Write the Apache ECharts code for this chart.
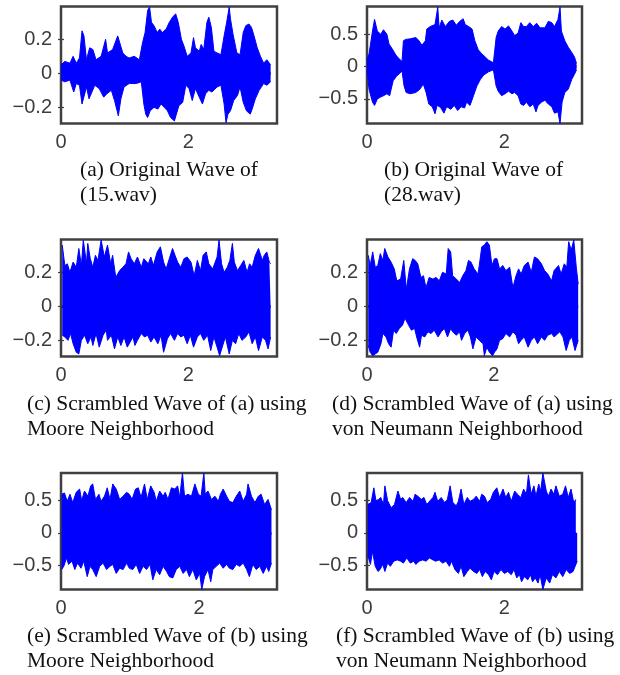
<!DOCTYPE html>
<html>
<head>
<meta charset="utf-8">
<title>Original and scrambled waves</title>
<script src="https://cdn.jsdelivr.net/npm/echarts@6/dist/echarts.min.js"></script>
<style>
  html, body { margin: 0; padding: 0; background: #fff; }
  #chart { width: 620px; height: 675px; }
</style>
</head>
<body>
<div id="chart"></div>
<script>
// envelopes of each wave, [time, amplitude]
var waveA_upper = [[0,0.05],[0.06,0.07],[0.14,0.06],[0.19,0.10],[0.24,0.06],[0.29,0.09],[0.33,0.25],[0.36,0.22],[0.40,0.08],[0.45,0.15],[0.50,0.14],[0.55,0.08],[0.63,0.10],[0.70,0.20],[0.73,0.12],[0.81,0.14],[0.89,0.22],[0.92,0.23],[0.97,0.12],[1.02,0.10],[1.07,0.09],[1.15,0.10],[1.23,0.08],[1.28,0.18],[1.32,0.24],[1.36,0.37],[1.39,0.39],[1.42,0.30],[1.46,0.28],[1.51,0.24],[1.55,0.26],[1.59,0.24],[1.65,0.26],[1.70,0.30],[1.75,0.33],[1.80,0.35],[1.84,0.30],[1.89,0.20],[1.93,0.16],[1.98,0.10],[2.04,0.12],[2.08,0.21],[2.11,0.15],[2.17,0.13],[2.20,0.17],[2.24,0.14],[2.29,0.30],[2.32,0.33],[2.36,0.27],[2.40,0.13],[2.45,0.12],[2.51,0.11],[2.56,0.22],[2.60,0.30],[2.64,0.39],[2.66,0.32],[2.70,0.23],[2.76,0.12],[2.81,0.11],[2.86,0.24],[2.90,0.28],[2.95,0.29],[2.99,0.27],[3.03,0.22],[3.08,0.15],[3.13,0.10],[3.18,0.06],[3.23,0.08],[3.29,0.05]];
var waveA_lower = [[0,-0.04],[0.06,-0.05],[0.14,-0.04],[0.20,-0.11],[0.24,-0.06],[0.29,-0.07],[0.33,-0.18],[0.36,-0.17],[0.40,-0.08],[0.44,-0.15],[0.47,-0.14],[0.53,-0.07],[0.60,-0.09],[0.67,-0.14],[0.72,-0.12],[0.79,-0.10],[0.84,-0.16],[0.88,-0.22],[0.90,-0.25],[0.94,-0.15],[0.99,-0.08],[1.07,-0.06],[1.18,-0.06],[1.26,-0.05],[1.30,-0.18],[1.33,-0.24],[1.36,-0.26],[1.40,-0.22],[1.46,-0.20],[1.52,-0.21],[1.57,-0.18],[1.62,-0.20],[1.67,-0.22],[1.72,-0.26],[1.78,-0.28],[1.81,-0.27],[1.85,-0.19],[1.91,-0.17],[1.96,-0.07],[2.01,-0.09],[2.06,-0.16],[2.11,-0.09],[2.17,-0.14],[2.22,-0.18],[2.27,-0.12],[2.32,-0.10],[2.37,-0.11],[2.45,-0.08],[2.51,-0.07],[2.56,-0.18],[2.59,-0.29],[2.62,-0.24],[2.66,-0.22],[2.71,-0.16],[2.77,-0.13],[2.81,-0.08],[2.86,-0.17],[2.91,-0.22],[2.97,-0.24],[3.00,-0.21],[3.05,-0.15],[3.11,-0.10],[3.18,-0.06],[3.23,-0.07],[3.29,-0.05]];

var waveB_upper = [[0,0.11],[0.03,0.20],[0.08,0.55],[0.11,0.73],[0.15,0.55],[0.20,0.50],[0.24,0.57],[0.29,0.50],[0.32,0.35],[0.37,0.27],[0.42,0.18],[0.46,0.13],[0.51,0.08],[0.53,0.40],[0.56,0.42],[0.63,0.43],[0.71,0.45],[0.75,0.41],[0.80,0.33],[0.85,0.40],[0.87,0.58],[0.92,0.62],[0.99,0.65],[1.03,0.92],[1.05,0.60],[1.09,0.72],[1.14,0.62],[1.20,0.70],[1.25,0.72],[1.30,0.64],[1.35,0.70],[1.40,0.74],[1.43,0.65],[1.48,0.62],[1.53,0.58],[1.57,0.40],[1.62,0.26],[1.67,0.20],[1.72,0.15],[1.77,0.10],[1.84,0.06],[1.88,0.45],[1.91,0.55],[1.96,0.62],[2.01,0.58],[2.06,0.63],[2.11,0.55],[2.15,0.48],[2.20,0.52],[2.24,0.68],[2.28,0.62],[2.32,0.62],[2.37,0.68],[2.42,0.62],[2.47,0.67],[2.52,0.60],[2.59,0.60],[2.64,0.70],[2.69,0.68],[2.73,0.62],[2.78,0.73],[2.81,0.92],[2.83,0.55],[2.88,0.40],[2.93,0.30],[2.98,0.22],[3.02,0.15],[3.05,0.05]];
var waveB_lower = [[0,-0.05],[0.03,-0.35],[0.08,-0.55],[0.11,-0.60],[0.15,-0.50],[0.20,-0.47],[0.24,-0.45],[0.29,-0.42],[0.33,-0.45],[0.38,-0.22],[0.43,-0.15],[0.48,-0.10],[0.51,-0.07],[0.54,-0.30],[0.57,-0.40],[0.63,-0.42],[0.71,-0.40],[0.77,-0.35],[0.82,-0.27],[0.86,-0.40],[0.90,-0.58],[0.95,-0.62],[0.99,-0.73],[1.02,-0.60],[1.07,-0.63],[1.12,-0.72],[1.16,-0.62],[1.22,-0.66],[1.27,-0.60],[1.32,-0.68],[1.37,-0.62],[1.42,-0.64],[1.45,-0.55],[1.50,-0.60],[1.55,-0.45],[1.60,-0.30],[1.65,-0.20],[1.70,-0.13],[1.77,-0.08],[1.84,-0.05],[1.88,-0.30],[1.91,-0.38],[1.96,-0.45],[2.01,-0.42],[2.06,-0.38],[2.11,-0.42],[2.15,-0.40],[2.20,-0.45],[2.24,-0.58],[2.28,-0.60],[2.32,-0.55],[2.37,-0.62],[2.42,-0.58],[2.46,-0.70],[2.49,-0.60],[2.54,-0.55],[2.59,-0.52],[2.64,-0.58],[2.69,-0.62],[2.73,-0.72],[2.78,-0.70],[2.81,-0.88],[2.84,-0.55],[2.88,-0.40],[2.93,-0.35],[2.98,-0.20],[3.02,-0.12],[3.05,-0.05]];

var waveC_upper = [[0.02,0.36],[0.06,0.24],[0.10,0.25],[0.14,0.20],[0.19,0.26],[0.24,0.23],[0.28,0.34],[0.32,0.24],[0.35,0.39],[0.40,0.25],[0.42,0.37],[0.46,0.28],[0.50,0.23],[0.54,0.30],[0.58,0.27],[0.63,0.39],[0.68,0.29],[0.73,0.36],[0.78,0.25],[0.81,0.30],[0.86,0.17],[0.92,0.21],[0.97,0.23],[1.02,0.25],[1.06,0.32],[1.10,0.28],[1.15,0.25],[1.20,0.29],[1.26,0.23],[1.30,0.28],[1.33,0.27],[1.37,0.25],[1.41,0.29],[1.45,0.24],[1.51,0.32],[1.56,0.35],[1.61,0.26],[1.65,0.22],[1.70,0.28],[1.75,0.34],[1.79,0.30],[1.83,0.26],[1.88,0.23],[1.93,0.28],[1.98,0.29],[2.04,0.26],[2.09,0.18],[2.14,0.27],[2.19,0.21],[2.23,0.30],[2.28,0.32],[2.32,0.25],[2.38,0.22],[2.41,0.25],[2.45,0.29],[2.48,0.39],[2.52,0.25],[2.56,0.20],[2.61,0.23],[2.65,0.27],[2.69,0.37],[2.72,0.26],[2.77,0.21],[2.82,0.24],[2.87,0.27],[2.92,0.20],[2.96,0.25],[3.00,0.23],[3.05,0.30],[3.10,0.34],[3.16,0.27],[3.19,0.30],[3.23,0.32],[3.27,0.26],[3.29,0.25]];
var waveC_lower = [[0.02,-0.17],[0.06,-0.18],[0.11,-0.20],[0.15,-0.16],[0.19,-0.22],[0.24,-0.27],[0.28,-0.28],[0.32,-0.20],[0.37,-0.17],[0.42,-0.22],[0.47,-0.18],[0.50,-0.23],[0.55,-0.16],[0.60,-0.24],[0.66,-0.17],[0.71,-0.14],[0.73,-0.20],[0.79,-0.17],[0.84,-0.25],[0.89,-0.18],[0.94,-0.23],[0.99,-0.18],[1.04,-0.24],[1.07,-0.25],[1.13,-0.18],[1.16,-0.23],[1.20,-0.20],[1.26,-0.16],[1.31,-0.18],[1.36,-0.17],[1.41,-0.21],[1.46,-0.18],[1.52,-0.22],[1.57,-0.17],[1.61,-0.27],[1.67,-0.19],[1.72,-0.16],[1.78,-0.20],[1.83,-0.16],[1.88,-0.18],[1.93,-0.17],[1.98,-0.22],[2.03,-0.17],[2.08,-0.24],[2.14,-0.18],[2.19,-0.16],[2.24,-0.20],[2.30,-0.17],[2.35,-0.26],[2.40,-0.18],[2.45,-0.24],[2.49,-0.29],[2.53,-0.24],[2.58,-0.18],[2.64,-0.28],[2.69,-0.20],[2.74,-0.22],[2.79,-0.16],[2.84,-0.20],[2.90,-0.18],[2.95,-0.15],[3.00,-0.22],[3.05,-0.18],[3.10,-0.26],[3.16,-0.18],[3.21,-0.20],[3.25,-0.25],[3.29,-0.18]];

var waveD_upper = [[0.02,0.30],[0.05,0.24],[0.09,0.32],[0.13,0.23],[0.17,0.24],[0.21,0.31],[0.25,0.27],[0.28,0.34],[0.33,0.29],[0.38,0.26],[0.43,0.22],[0.47,0.15],[0.53,0.16],[0.58,0.27],[0.62,0.10],[0.67,0.22],[0.72,0.28],[0.76,0.27],[0.80,0.25],[0.85,0.17],[0.89,0.18],[0.93,0.11],[0.98,0.17],[1.04,0.16],[1.09,0.17],[1.14,0.15],[1.19,0.20],[1.25,0.19],[1.28,0.34],[1.32,0.32],[1.35,0.18],[1.41,0.16],[1.46,0.14],[1.51,0.18],[1.56,0.21],[1.60,0.27],[1.64,0.26],[1.69,0.22],[1.75,0.19],[1.77,0.24],[1.81,0.35],[1.85,0.36],[1.89,0.38],[1.93,0.36],[1.97,0.24],[2.01,0.28],[2.05,0.28],[2.09,0.22],[2.14,0.24],[2.19,0.21],[2.25,0.23],[2.30,0.11],[2.35,0.18],[2.39,0.22],[2.43,0.19],[2.48,0.24],[2.54,0.26],[2.59,0.20],[2.64,0.29],[2.69,0.28],[2.75,0.25],[2.80,0.21],[2.85,0.19],[2.91,0.15],[2.95,0.21],[2.98,0.22],[3.02,0.24],[3.06,0.19],[3.11,0.25],[3.15,0.23],[3.18,0.38],[3.22,0.33],[3.26,0.39],[3.30,0.23],[3.33,0.13]];
var waveD_lower = [[0.02,-0.23],[0.05,-0.27],[0.09,-0.29],[0.13,-0.28],[0.17,-0.27],[0.22,-0.22],[0.25,-0.16],[0.30,-0.18],[0.34,-0.22],[0.38,-0.24],[0.42,-0.14],[0.46,-0.16],[0.51,-0.13],[0.56,-0.11],[0.60,-0.07],[0.64,-0.10],[0.70,-0.14],[0.75,-0.13],[0.79,-0.19],[0.83,-0.24],[0.86,-0.17],[0.91,-0.18],[0.96,-0.15],[1.01,-0.16],[1.06,-0.14],[1.12,-0.18],[1.17,-0.15],[1.22,-0.13],[1.27,-0.18],[1.32,-0.13],[1.35,-0.15],[1.41,-0.17],[1.46,-0.15],[1.49,-0.20],[1.54,-0.16],[1.59,-0.14],[1.63,-0.18],[1.67,-0.25],[1.72,-0.18],[1.77,-0.20],[1.83,-0.22],[1.85,-0.29],[1.89,-0.24],[1.93,-0.27],[1.98,-0.29],[2.01,-0.27],[2.05,-0.25],[2.09,-0.20],[2.14,-0.19],[2.19,-0.16],[2.25,-0.18],[2.30,-0.15],[2.35,-0.17],[2.39,-0.22],[2.43,-0.20],[2.48,-0.18],[2.54,-0.24],[2.59,-0.20],[2.64,-0.18],[2.69,-0.22],[2.75,-0.18],[2.80,-0.20],[2.85,-0.17],[2.91,-0.16],[2.95,-0.18],[2.98,-0.19],[3.04,-0.15],[3.09,-0.18],[3.14,-0.26],[3.19,-0.20],[3.23,-0.18],[3.28,-0.26],[3.33,-0.20]];

var waveE_upper = [[0.01,0.60],[0.05,0.62],[0.09,0.49],[0.13,0.60],[0.17,0.47],[0.22,0.63],[0.27,0.68],[0.30,0.50],[0.34,0.65],[0.39,0.57],[0.43,0.73],[0.46,0.76],[0.50,0.52],[0.55,0.60],[0.58,0.49],[0.63,0.57],[0.67,0.70],[0.71,0.52],[0.75,0.76],[0.80,0.68],[0.85,0.52],[0.90,0.57],[0.95,0.63],[0.99,0.60],[1.03,0.52],[1.08,0.68],[1.12,0.70],[1.16,0.55],[1.21,0.76],[1.25,0.52],[1.30,0.73],[1.35,0.63],[1.38,0.49],[1.43,0.65],[1.48,0.57],[1.51,0.63],[1.55,0.52],[1.60,0.70],[1.65,0.68],[1.69,0.73],[1.72,0.55],[1.76,0.93],[1.79,0.57],[1.84,0.60],[1.89,0.57],[1.94,0.76],[1.99,0.60],[2.03,0.57],[2.07,0.93],[2.09,0.60],[2.13,0.65],[2.18,0.52],[2.23,0.57],[2.28,0.49],[2.31,0.60],[2.35,0.68],[2.40,0.57],[2.44,0.49],[2.49,0.47],[2.54,0.57],[2.59,0.65],[2.64,0.49],[2.69,0.60],[2.71,0.76],[2.76,0.57],[2.81,0.47],[2.86,0.57],[2.90,0.60],[2.95,0.44],[3.00,0.52],[3.05,0.36]];
var waveE_lower = [[0.01,-0.57],[0.04,-0.52],[0.08,-0.39],[0.11,-0.49],[0.16,-0.44],[0.20,-0.57],[0.24,-0.47],[0.29,-0.55],[0.33,-0.44],[0.38,-0.68],[0.42,-0.52],[0.46,-0.57],[0.51,-0.68],[0.56,-0.52],[0.61,-0.47],[0.66,-0.57],[0.71,-0.52],[0.75,-0.49],[0.80,-0.63],[0.85,-0.55],[0.90,-0.57],[0.95,-0.47],[0.99,-0.55],[1.04,-0.57],[1.09,-0.49],[1.14,-0.63],[1.19,-0.52],[1.24,-0.57],[1.29,-0.49],[1.33,-0.73],[1.38,-0.57],[1.43,-0.65],[1.48,-0.52],[1.53,-0.60],[1.57,-0.68],[1.62,-0.70],[1.67,-0.57],[1.72,-0.52],[1.77,-0.63],[1.82,-0.57],[1.86,-0.68],[1.91,-0.57],[1.96,-0.73],[2.01,-0.63],[2.04,-0.88],[2.08,-0.68],[2.13,-0.57],[2.17,-0.76],[2.20,-0.57],[2.25,-0.52],[2.30,-0.47],[2.35,-0.55],[2.40,-0.49],[2.44,-0.55],[2.49,-0.57],[2.54,-0.49],[2.59,-0.52],[2.64,-0.47],[2.69,-0.57],[2.73,-0.68],[2.78,-0.49],[2.83,-0.57],[2.88,-0.52],[2.93,-0.63],[2.98,-0.52],[3.01,-0.60],[3.05,-0.47]];

var waveF_upper = [[0.01,0.44],[0.06,0.47],[0.10,0.70],[0.13,0.50],[0.17,0.52],[0.20,0.55],[0.24,0.44],[0.26,0.73],[0.30,0.50],[0.35,0.39],[0.40,0.44],[0.45,0.65],[0.49,0.52],[0.52,0.55],[0.57,0.47],[0.62,0.55],[0.67,0.49],[0.70,0.60],[0.74,0.57],[0.79,0.52],[0.83,0.55],[0.87,0.44],[0.91,0.49],[0.96,0.55],[0.99,0.63],[1.03,0.49],[1.08,0.55],[1.13,0.47],[1.17,0.52],[1.21,0.73],[1.25,0.47],[1.30,0.42],[1.33,0.49],[1.37,0.68],[1.41,0.44],[1.46,0.55],[1.50,0.49],[1.55,0.52],[1.59,0.57],[1.64,0.49],[1.67,0.60],[1.71,0.57],[1.75,0.47],[1.80,0.52],[1.84,0.63],[1.89,0.70],[1.93,0.55],[1.98,0.68],[2.02,0.55],[2.06,0.63],[2.10,0.49],[2.15,0.65],[2.19,0.60],[2.24,0.55],[2.28,0.68],[2.32,0.60],[2.35,0.90],[2.39,0.60],[2.43,0.73],[2.46,0.57],[2.50,0.76],[2.53,0.65],[2.56,0.93],[2.61,0.65],[2.64,0.57],[2.68,0.68],[2.72,0.60],[2.75,0.73],[2.80,0.57],[2.85,0.60],[2.89,0.73],[2.93,0.55],[2.97,0.68],[3.01,0.47],[3.04,0.52]];
var waveF_lower = [[0.01,-0.34],[0.05,-0.49],[0.08,-0.29],[0.12,-0.52],[0.16,-0.60],[0.19,-0.57],[0.23,-0.49],[0.26,-0.60],[0.30,-0.47],[0.34,-0.52],[0.39,-0.44],[0.44,-0.42],[0.49,-0.44],[0.53,-0.47],[0.58,-0.39],[0.63,-0.47],[0.68,-0.44],[0.71,-0.49],[0.76,-0.44],[0.81,-0.42],[0.86,-0.44],[0.91,-0.39],[0.96,-0.42],[1.00,-0.44],[1.05,-0.42],[1.10,-0.47],[1.15,-0.44],[1.20,-0.52],[1.23,-0.44],[1.28,-0.57],[1.33,-0.63],[1.37,-0.52],[1.41,-0.68],[1.46,-0.60],[1.50,-0.55],[1.55,-0.60],[1.60,-0.63],[1.64,-0.57],[1.68,-0.68],[1.72,-0.60],[1.77,-0.65],[1.81,-0.73],[1.85,-0.60],[1.90,-0.65],[1.95,-0.57],[2.00,-0.63],[2.05,-0.60],[2.10,-0.65],[2.14,-0.57],[2.18,-0.70],[2.22,-0.65],[2.25,-0.76],[2.29,-0.68],[2.34,-0.73],[2.38,-0.65],[2.41,-0.76],[2.45,-0.70],[2.49,-0.78],[2.52,-0.65],[2.56,-0.88],[2.61,-0.70],[2.66,-0.78],[2.70,-0.65],[2.75,-0.70],[2.80,-0.60],[2.85,-0.68],[2.90,-0.57],[2.95,-0.63],[3.00,-0.60],[3.03,-0.52],[3.06,-0.44]];

// tick labels
var xTicks = [0, 2];
var yTicksSmall = [-0.2, 0, 0.2];
var yTicksLarge = [-0.5, 0, 0.5];

var captions = [
    '(a) Original Wave of\n(15.wav)',
    '(b) Original Wave of\n(28.wav)',
    '(c) Scrambled Wave of (a) using\nMoore Neighborhood',
    '(d) Scrambled Wave of (a) using\nvon Neumann Neighborhood',
    '(e) Scrambled Wave of (b) using\nMoore Neighborhood',
    '(f) Scrambled Wave of (b) using\nvon Neumann Neighborhood'
];

var panels = [
    { box: [61, 6.5, 216, 117],   xMax: 3.39, yMin: -0.295, yMax: 0.393, yTicks: yTicksSmall, upper: waveA_upper, lower: waveA_lower, cap: [80, 158] },
    { box: [367, 6.5, 215, 117],  xMax: 3.13, yMin: -0.88,  yMax: 0.93,  yTicks: yTicksLarge, upper: waveB_upper, lower: waveB_lower, cap: [384, 158] },
    { box: [61, 239.5, 216, 117], xMax: 3.39, yMin: -0.295, yMax: 0.393, yTicks: yTicksSmall, upper: waveC_upper, lower: waveC_lower, cap: [27, 392] },
    { box: [367, 239.5, 215, 117],xMax: 3.39, yMin: -0.295, yMax: 0.393, yTicks: yTicksSmall, upper: waveD_upper, lower: waveD_lower, cap: [332, 392] },
    { box: [61, 473, 216, 116.5], xMax: 3.13, yMin: -0.88,  yMax: 0.93,  yTicks: yTicksLarge, upper: waveE_upper, lower: waveE_lower, cap: [27, 624] },
    { box: [367, 473, 215, 116.5],xMax: 3.13, yMin: -0.88,  yMax: 0.93,  yTicks: yTicksLarge, upper: waveF_upper, lower: waveF_lower, cap: [336, 624] }
];

var frameColor = '#404040';
var waveColor = '#0000ff';
var tickFont = { color: '#3c3c3c', fontSize: 20, fontFamily: 'Liberation Sans' };

function fmt(v) {
    return String(v).replace('-', '\u2212');
}

var grids = [], xAxes = [], yAxes = [], series = [], graphics = [];

panels.forEach(function (p, i) {
    grids.push({
        left: p.box[0], top: p.box[1], width: p.box[2], height: p.box[3],
        show: true, borderColor: frameColor, borderWidth: 2.5,
        backgroundColor: '#fff', outerBoundsMode: 'none'
    });

    // bottom / top x axes (top one only carries the mirrored ticks)
    ['bottom', 'top'].forEach(function (pos) {
        xAxes.push({
            gridIndex: i, type: 'value', position: pos,
            min: 0, max: p.xMax,
            axisLine: { show: false },
            splitLine: { show: false },
            axisTick: { show: true, inside: true, length: 3, customValues: xTicks, lineStyle: { color: frameColor, width: 1.2 } },
            axisLabel: pos == 'bottom'
                ? Object.assign({ show: true, margin: 9, customValues: xTicks, formatter: fmt }, tickFont)
                : { show: false }
        });
    });

    ['left', 'right'].forEach(function (pos) {
        yAxes.push({
            gridIndex: i, type: 'value', position: pos,
            min: p.yMin, max: p.yMax,
            axisLine: { show: false },
            splitLine: { show: false },
            axisTick: { show: true, inside: true, length: 3, customValues: p.yTicks, lineStyle: { color: frameColor, width: 1.2 } },
            axisLabel: pos == 'left'
                ? Object.assign({ show: true, margin: 9, customValues: p.yTicks, formatter: fmt }, tickFont)
                : { show: false }
        });
    });

    [p.upper, p.lower].forEach(function (d, k) {
        var s = {
            type: 'line',
            xAxisIndex: i * 2,
            yAxisIndex: i * 2,
            data: d,
            symbol: 'none',
            silent: true,
            lineStyle: { color: waveColor, width: 1 },
            areaStyle: { color: waveColor, opacity: 1 },
            z: 3
        };
        if (k == 0) {
            // close the seam between the two filled halves along y = 0
            s.markLine = {
                silent: true,
                symbol: 'none',
                label: { show: false },
                lineStyle: { color: waveColor, width: 3, type: 'solid' },
                data: [[{ coord: [d[0][0], 0] }, { coord: [d[d.length - 1][0], 0] }]]
            };
        }
        series.push(s);
    });

    graphics.push({
        type: 'text',
        left: p.cap[0],
        top: p.cap[1],
        style: {
            text: captions[i],
            fill: '#111',
            font: '21.5px "Liberation Serif"',
            lineHeight: 25
        }
    });
});

var myChart = echarts.init(document.getElementById('chart'));
myChart.setOption({
    animation: false,
    backgroundColor: '#fff',
    grid: grids,
    xAxis: xAxes,
    yAxis: yAxes,
    series: series,
    graphic: graphics
});
</script>
</body>
</html>
